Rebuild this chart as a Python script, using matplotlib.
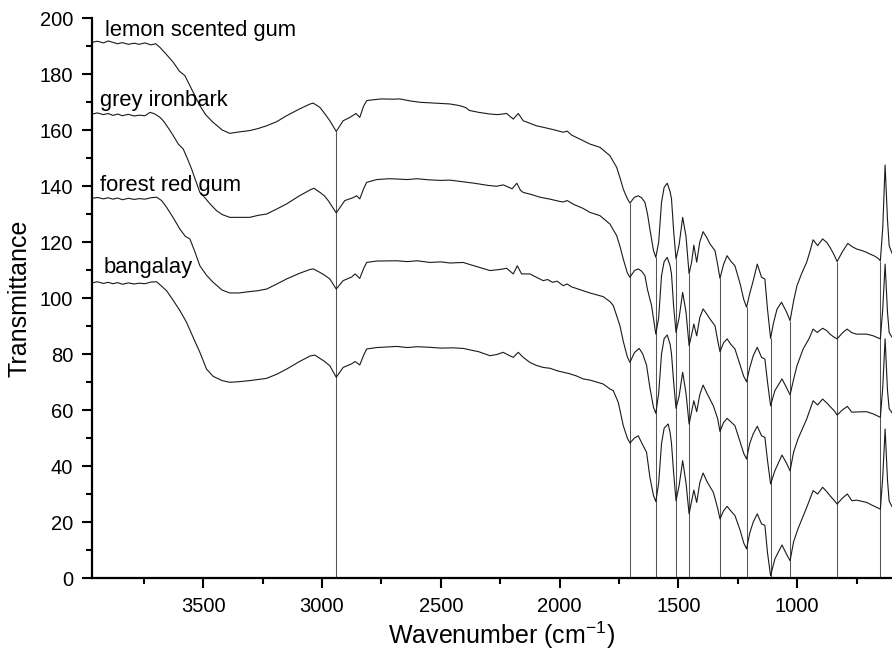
import numpy as np
import matplotlib
matplotlib.use('Agg')
import matplotlib.pyplot as plt
from matplotlib.ticker import MultipleLocator

plt.rcParams['font.family'] = ['Liberation Sans', 'DejaVu Sans']
plt.rcParams['mathtext.fontset'] = 'custom'
plt.rcParams['mathtext.rm'] = 'Liberation Sans'
plt.rcParams['mathtext.it'] = 'Liberation Sans'

# spectra: (wavenumber, transmittance)
lemon = [
    (3968, 191.3), (3945, 191.7), (3920, 191.1), (3900, 191.8), (3880, 191.3), (3860, 190.8),
    (3840, 191.2), (3815, 190.6), (3790, 191.0), (3770, 190.6), (3745, 191.1), (3720, 190.4),
    (3700, 190.8), (3682, 189.5), (3655, 187.0), (3626, 184.2), (3600, 181.0), (3577, 179.4),
    (3560, 176.5), (3542, 173.5), (3514, 168.7), (3490, 165.5), (3458, 162.7), (3420, 160.0),
    (3388, 158.8), (3350, 159.3), (3304, 159.8), (3270, 160.5), (3233, 161.5), (3190, 163.0),
    (3149, 165.1), (3095, 167.5), (3050, 169.3), (3037, 169.6), (3009, 168.1), (2990, 166.0),
    (2967, 163.3), (2940, 159.5), (2911, 163.3), (2883, 164.5), (2857, 165.9), (2841, 164.5),
    (2825, 168.5), (2812, 170.5), (2784, 170.8), (2750, 171.1), (2700, 171.0), (2672, 171.1),
    (2630, 170.4), (2588, 169.9), (2546, 169.7), (2504, 169.5), (2462, 169.3), (2420, 168.7),
    (2395, 168.0), (2380, 167.0), (2364, 166.7), (2340, 166.3), (2293, 165.7), (2260, 165.5),
    (2223, 165.9), (2195, 163.9), (2174, 165.9), (2153, 163.3), (2125, 162.4), (2097, 161.5),
    (2060, 160.8), (2020, 160.0), (1985, 159.2), (1968, 159.6), (1950, 158.2), (1901, 156.2),
    (1873, 155.0), (1830, 153.8), (1788, 150.8), (1760, 146.7), (1746, 143.0), (1732, 138.9),
    (1715, 135.5), (1704, 133.9), (1685, 136.0), (1669, 136.5), (1655, 135.8), (1641, 134.2),
    (1630, 130.0), (1620, 124.6), (1605, 117.0), (1595, 114.5), (1583, 120.0), (1571, 134.2),
    (1560, 139.5), (1547, 141.0), (1535, 138.0), (1529, 135.4), (1520, 124.0), (1510, 113.9),
    (1497, 119.0), (1482, 128.8), (1468, 122.0), (1455, 108.6), (1444, 113.0), (1435, 118.9),
    (1423, 112.8), (1410, 120.0), (1396, 123.7), (1380, 121.5), (1367, 119.3), (1346, 116.9),
    (1335, 112.0), (1325, 107.0), (1310, 112.0), (1295, 115.1), (1280, 113.2), (1262, 111.5),
    (1240, 105.0), (1225, 99.5), (1213, 96.7), (1200, 101.5), (1185, 106.2), (1168, 112.1),
    (1150, 107.4), (1136, 106.8), (1125, 96.0), (1112, 85.6), (1100, 91.0), (1085, 96.0),
    (1066, 98.5), (1045, 95.0), (1030, 91.9), (1015, 99.0), (1001, 104.4), (980, 109.0),
    (960, 112.8), (945, 117.0), (933, 120.8), (914, 118.7), (893, 121.1), (875, 119.8),
    (862, 118.1), (845, 115.5), (832, 113.0), (810, 116.5), (787, 119.5), (770, 118.4),
    (750, 117.5), (730, 117.0), (708, 116.3), (694, 115.7), (675, 115.0), (660, 114.2),
    (650, 113.3), (640, 125.0), (630, 147.5), (620, 128.0), (613, 118.7), (601, 116.0),
]

grey = [
    (3968, 165.7), (3945, 166.1), (3920, 165.5), (3900, 165.9), (3880, 165.2), (3860, 165.7),
    (3840, 165.1), (3815, 165.6), (3790, 165.0), (3770, 165.3), (3745, 165.1), (3724, 166.3),
    (3705, 165.8), (3682, 164.5), (3668, 163.3), (3645, 160.5), (3626, 158.0), (3605, 155.0),
    (3584, 153.2), (3565, 149.5), (3549, 146.1), (3530, 141.5), (3514, 137.7), (3500, 136.5),
    (3470, 133.5), (3444, 131.2), (3420, 129.8), (3388, 128.8), (3350, 128.8), (3304, 128.8),
    (3270, 129.5), (3233, 130.0), (3190, 131.8), (3149, 133.6), (3095, 136.5), (3050, 138.6),
    (3034, 139.2), (3010, 137.8), (2990, 136.5), (2974, 134.8), (2940, 130.4), (2904, 134.8),
    (2870, 135.8), (2854, 136.5), (2841, 135.4), (2825, 139.0), (2812, 141.3), (2770, 142.3),
    (2720, 142.6), (2686, 142.5), (2640, 142.3), (2600, 142.6), (2550, 142.2), (2500, 142.0),
    (2462, 142.1), (2406, 141.5), (2360, 141.0), (2300, 140.2), (2265, 139.9), (2237, 140.4),
    (2200, 139.0), (2180, 141.0), (2165, 138.5), (2153, 137.7), (2120, 137.0), (2083, 136.0),
    (2040, 135.3), (2000, 134.5), (1985, 134.3), (1968, 134.8), (1940, 133.4), (1901, 132.0),
    (1873, 130.6), (1830, 129.4), (1788, 126.4), (1760, 122.3), (1746, 118.5), (1732, 113.9),
    (1715, 109.0), (1704, 107.4), (1685, 109.8), (1669, 110.4), (1655, 109.6), (1641, 108.0),
    (1630, 103.0), (1613, 97.3), (1595, 87.1), (1583, 93.0), (1571, 108.0), (1560, 113.0),
    (1547, 114.5), (1535, 111.5), (1529, 108.5), (1520, 97.0), (1510, 87.7), (1497, 93.0),
    (1482, 102.0), (1468, 95.0), (1455, 83.0), (1444, 87.0), (1435, 90.7), (1423, 86.5),
    (1410, 93.0), (1396, 96.1), (1380, 94.2), (1367, 92.5), (1346, 90.1), (1335, 85.0),
    (1325, 80.8), (1310, 84.0), (1295, 85.4), (1280, 83.5), (1262, 81.8), (1240, 76.0),
    (1225, 72.0), (1213, 70.1), (1200, 75.0), (1185, 79.4), (1168, 82.4), (1150, 78.8),
    (1136, 78.2), (1125, 70.0), (1112, 61.5), (1094, 66.9), (1064, 71.1), (1045, 68.0),
    (1030, 65.4), (1015, 71.0), (1001, 75.8), (975, 81.8), (950, 85.5), (933, 88.9),
    (916, 87.7), (893, 89.2), (875, 88.3), (862, 87.1), (845, 86.0), (832, 85.4),
    (810, 87.5), (790, 88.9), (770, 87.6), (750, 87.1), (708, 87.1), (680, 86.5),
    (650, 85.4), (640, 96.0), (630, 112.1), (620, 95.0), (613, 87.7), (601, 86.0),
]

forest = [
    (3968, 135.6), (3945, 135.9), (3920, 135.4), (3900, 135.8), (3880, 135.3), (3860, 135.7),
    (3840, 135.1), (3815, 135.6), (3790, 135.2), (3770, 135.5), (3745, 135.3), (3720, 135.8),
    (3696, 136.0), (3675, 134.8), (3654, 132.4), (3625, 128.5), (3598, 124.6), (3575, 122.0),
    (3556, 121.1), (3535, 116.5), (3514, 111.5), (3485, 108.0), (3458, 105.6), (3420, 102.8),
    (3388, 101.8), (3350, 101.8), (3304, 102.3), (3270, 102.6), (3233, 103.2), (3190, 105.0),
    (3149, 106.8), (3095, 108.8), (3050, 110.2), (3037, 110.4), (3010, 109.2), (2990, 108.2),
    (2967, 106.8), (2940, 103.2), (2911, 106.2), (2875, 107.5), (2861, 108.6), (2841, 107.0),
    (2825, 110.5), (2812, 112.7), (2770, 113.2), (2686, 113.3), (2640, 113.0), (2600, 113.3),
    (2546, 112.7), (2500, 112.9), (2460, 112.5), (2406, 112.7), (2360, 111.5), (2293, 109.8),
    (2250, 110.2), (2223, 110.6), (2195, 108.6), (2178, 111.5), (2160, 108.6), (2125, 108.6),
    (2100, 107.5), (2069, 106.2), (2050, 106.6), (2030, 105.6), (2010, 106.0), (1985, 104.4),
    (1968, 105.0), (1950, 104.0), (1901, 102.6), (1873, 101.8), (1817, 100.5), (1788, 98.7),
    (1774, 97.3), (1746, 90.1), (1732, 84.5), (1715, 79.0), (1704, 77.0), (1685, 80.5),
    (1665, 82.0), (1650, 80.0), (1634, 76.0), (1620, 68.0), (1605, 61.0), (1595, 58.8),
    (1583, 66.0), (1571, 80.0), (1560, 85.5), (1547, 86.8), (1535, 83.5), (1529, 80.0),
    (1520, 70.0), (1510, 60.6), (1497, 65.0), (1482, 73.5), (1468, 66.0), (1455, 55.0),
    (1444, 59.5), (1435, 63.3), (1423, 59.4), (1410, 65.5), (1396, 68.9), (1380, 66.0),
    (1353, 61.5), (1335, 57.0), (1325, 52.3), (1310, 55.5), (1295, 57.0), (1280, 55.8),
    (1262, 54.4), (1240, 48.5), (1225, 44.5), (1213, 42.5), (1200, 48.0), (1185, 51.5),
    (1168, 54.2), (1150, 50.8), (1136, 50.2), (1125, 42.0), (1112, 33.6), (1094, 38.3),
    (1064, 43.9), (1045, 41.0), (1030, 38.3), (1015, 45.0), (997, 49.6), (960, 56.8),
    (933, 63.3), (914, 61.8), (893, 63.9), (875, 62.5), (862, 61.3), (845, 59.8),
    (832, 58.2), (810, 60.0), (789, 61.3), (770, 59.2), (750, 59.3), (708, 59.4),
    (680, 58.6), (650, 57.4), (640, 68.0), (630, 85.4), (620, 67.0), (613, 60.5), (601, 59.0),
]

bangalay = [
    (3968, 105.4), (3945, 105.8), (3920, 105.2), (3900, 105.6), (3880, 105.1), (3860, 105.5),
    (3840, 104.9), (3815, 105.4), (3790, 105.0), (3770, 105.3), (3745, 105.1), (3720, 105.7),
    (3696, 105.8), (3675, 104.2), (3654, 102.6), (3625, 99.0), (3598, 95.5), (3570, 91.3),
    (3540, 85.5), (3514, 80.6), (3486, 74.6), (3458, 72.0), (3420, 70.5), (3388, 69.9),
    (3350, 70.1), (3304, 70.5), (3270, 70.9), (3233, 71.3), (3190, 72.8), (3149, 74.6),
    (3095, 77.3), (3050, 79.3), (3030, 79.6), (3010, 78.5), (2990, 77.4), (2967, 75.8),
    (2940, 71.7), (2911, 75.2), (2875, 76.5), (2861, 77.3), (2841, 76.1), (2825, 79.5),
    (2812, 81.8), (2770, 82.3), (2686, 82.7), (2640, 82.3), (2600, 82.6), (2546, 82.4),
    (2500, 82.1), (2450, 82.2), (2406, 82.0), (2340, 80.8), (2293, 79.4), (2265, 79.8),
    (2237, 80.6), (2215, 79.6), (2195, 78.8), (2174, 80.6), (2153, 78.8), (2125, 77.0),
    (2100, 76.0), (2069, 75.2), (2040, 74.9), (2010, 74.0), (1985, 73.5), (1960, 73.0),
    (1930, 72.2), (1901, 71.1), (1873, 70.7), (1817, 69.3), (1788, 67.5), (1774, 66.9),
    (1753, 62.7), (1732, 54.4), (1715, 50.0), (1704, 48.2), (1685, 50.0), (1669, 50.8),
    (1650, 47.5), (1634, 44.9), (1620, 36.0), (1605, 29.5), (1595, 27.3), (1583, 34.0),
    (1571, 48.0), (1560, 53.5), (1543, 55.0), (1535, 52.0), (1529, 48.0), (1520, 37.5),
    (1510, 27.6), (1497, 33.0), (1482, 41.9), (1468, 34.0), (1455, 22.9), (1444, 27.5),
    (1435, 31.4), (1423, 27.0), (1410, 34.0), (1396, 37.5), (1380, 34.5), (1353, 30.6),
    (1335, 25.0), (1325, 21.1), (1310, 24.0), (1295, 25.6), (1280, 24.0), (1262, 22.3),
    (1240, 17.0), (1225, 12.5), (1213, 10.4), (1200, 16.0), (1185, 20.0), (1168, 22.9),
    (1150, 19.3), (1136, 18.8), (1125, 9.0), (1112, 0.8), (1094, 6.8), (1064, 11.8),
    (1045, 8.5), (1030, 6.2), (1015, 13.0), (997, 17.5), (960, 25.2), (933, 31.2),
    (914, 30.0), (893, 32.4), (875, 30.8), (862, 29.4), (845, 27.8), (832, 26.4),
    (810, 28.5), (789, 30.0), (770, 27.6), (750, 27.8), (708, 27.0), (680, 25.8),
    (650, 24.6), (640, 36.0), (630, 53.2), (620, 35.0), (613, 27.5), (601, 25.5),
]

names = ['lemon scented gum', 'grey ironbark', 'forest red gum', 'bangalay']
label_pos = [(3914, 193.7), (3935, 168.5), (3933, 138.3), (3919, 108.9)]

# marked band positions (cm-1)
bands = [2940, 1704, 1595, 1510, 1455, 1325, 1213, 1112, 1030, 832, 650]

fig = plt.figure(figsize=(8.92, 6.57), dpi=100)
ax = fig.add_axes([92/892, 79/657, 800/892, 560/657])

top = np.array(lemon)
tops = np.interp(bands, top[::-1, 0], top[::-1, 1])
ax.vlines(bands, 0, tops, color='#555555', lw=0.75, zorder=1)

for spec in [lemon, grey, forest, bangalay]:
    d = np.array(spec)
    ax.plot(d[:, 0], d[:, 1], color='#1a1a1a', lw=0.8, zorder=2)

for name, (x, y) in zip(names, label_pos):
    ax.text(x, y, name, fontsize=15.8, ha='left', va='baseline')

ax.set_xlim(3968, 601)
ax.set_ylim(0, 200)
ax.xaxis.set_major_locator(MultipleLocator(500))
ax.xaxis.set_minor_locator(MultipleLocator(250))
ax.yaxis.set_major_locator(MultipleLocator(20))
ax.yaxis.set_minor_locator(MultipleLocator(10))

for s in ['top', 'right']:
    ax.spines[s].set_visible(False)
for s in ['left', 'bottom']:
    ax.spines[s].set_linewidth(1.6)

ax.tick_params(which='major', direction='out', length=7.5, width=1.5, labelsize=14.5, pad=6)
ax.tick_params(which='minor', direction='out', length=4, width=1.5)

ax.set_xlabel('Wavenumber (cm$^{-1}$)', fontsize=18, labelpad=4)
ax.xaxis.set_label_coords(0.512, -0.075)
ax.set_ylabel('Transmittance', fontsize=18, labelpad=6)

plt.savefig('out.png', dpi=100)
